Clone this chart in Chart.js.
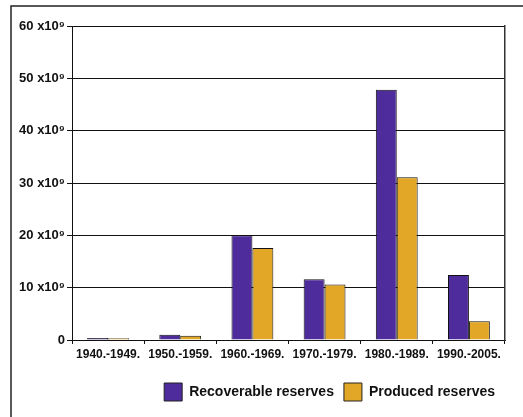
<!DOCTYPE html>
<html>
<head>
<meta charset="utf-8">
<script src="https://cdn.jsdelivr.net/npm/chart.js@4"></script>
<style>
html,body{margin:0;padding:0;background:#fff;}
#wrap{width:523px;height:417px;position:relative;}
</style>
</head>
<body>
<div id="wrap"><canvas id="c" width="523" height="417"></canvas></div>
<script>
const categories = ['1940.-1949.', '1950.-1959.', '1960.-1969.', '1970.-1979.', '1980.-1989.', '1990.-2005.'];
const recoverable = [0.4, 1.0, 20.0, 11.6, 47.8, 12.4];
const produced = [0.35, 0.8, 17.6, 10.6, 31.1, 3.6];
const yTickValues = [0, 10, 20, 30, 40, 50, 60];
const yTickLabels = ['0', '10 x10⁹', '20 x10⁹', '30 x10⁹', '40 x10⁹', '50 x10⁹', '60 x10⁹'];
const seriesNames = ['Recoverable reserves', 'Produced reserves'];

const frame = {
  id: 'frame',
  beforeDraw(chart) {
    const ctx = chart.ctx;
    ctx.save();
    ctx.strokeStyle = '#222';
    ctx.lineWidth = 1.5;
    ctx.beginPath();
    ctx.moveTo(11, 417);
    ctx.lineTo(11, 6);
    ctx.lineTo(523, 6);
    ctx.stroke();
    ctx.restore();
  }
};

const font = {family: "'Liberation Sans', Arial, sans-serif", size: 12, weight: 'bold'};

new Chart(document.getElementById('c'), {
  type: 'bar',
  data: {
    labels: categories,
    datasets: [
      {label: seriesNames[0], data: recoverable, backgroundColor: '#4f2c9c', borderColor: '#111', borderWidth: 1},
      {label: seriesNames[1], data: produced, backgroundColor: '#e3a727', borderColor: '#111', borderWidth: 1}
    ]
  },
  plugins: [frame],
  options: {
    responsive: false,
    animation: false,
    layout: {padding: {left: 0, top: 26, right: 18, bottom: 6}},
    datasets: {bar: {categoryPercentage: 0.58, barPercentage: 1.0}},
    plugins: {
      tooltip: {enabled: false},
      legend: {
        position: 'bottom',
        align: 'end',
        labels: {
          color: '#111',
          font: {family: "'Liberation Sans', Arial, sans-serif", size: 14, weight: 'bold'},
          boxWidth: 18,
          boxHeight: 18,
          padding: 10,
          generateLabels(chart) {
            return chart.data.datasets.map((ds, i) => ({
              text: ds.label,
              fillStyle: ds.backgroundColor,
              strokeStyle: '#222',
              lineWidth: 1,
              hidden: false,
              datasetIndex: i,
              fontColor: '#111'
            }));
          }
        }
      }
    },
    scales: {
      x: {
        grid: {display: true, offset: true, drawOnChartArea: false, drawTicks: true, tickLength: 4, color: '#111'},
        border: {display: true, color: '#111', width: 1},
        ticks: {color: '#111', font: font, padding: 3, maxRotation: 0, autoSkip: false},
        afterFit(s) { s.height = 33; }
      },
      y: {
        min: 0, max: 60,
        afterBuildTicks(s) { s.ticks = yTickValues.map(v => ({value: v})); },
        grid: {color: '#111', lineWidth: 1, drawTicks: true, tickLength: 5},
        border: {display: true, color: '#111', width: 1},
        ticks: {
          color: '#111', font: {family: "'Liberation Sans', Arial, sans-serif", size: 13, weight: 'bold'}, padding: 2,
          callback(v) { const i = yTickValues.indexOf(v); return i >= 0 ? yTickLabels[i] : ''; }
        },
        afterFit(s) { s.width = 72; }
      },
      y2: {
        position: 'right', min: 0, max: 60,
        grid: {display: false},
        border: {display: true, color: '#333', width: 1.5},
        ticks: {display: false},
        afterFit(s) { s.width = 0; }
      }
    }
  }
});
</script>
</body>
</html>
